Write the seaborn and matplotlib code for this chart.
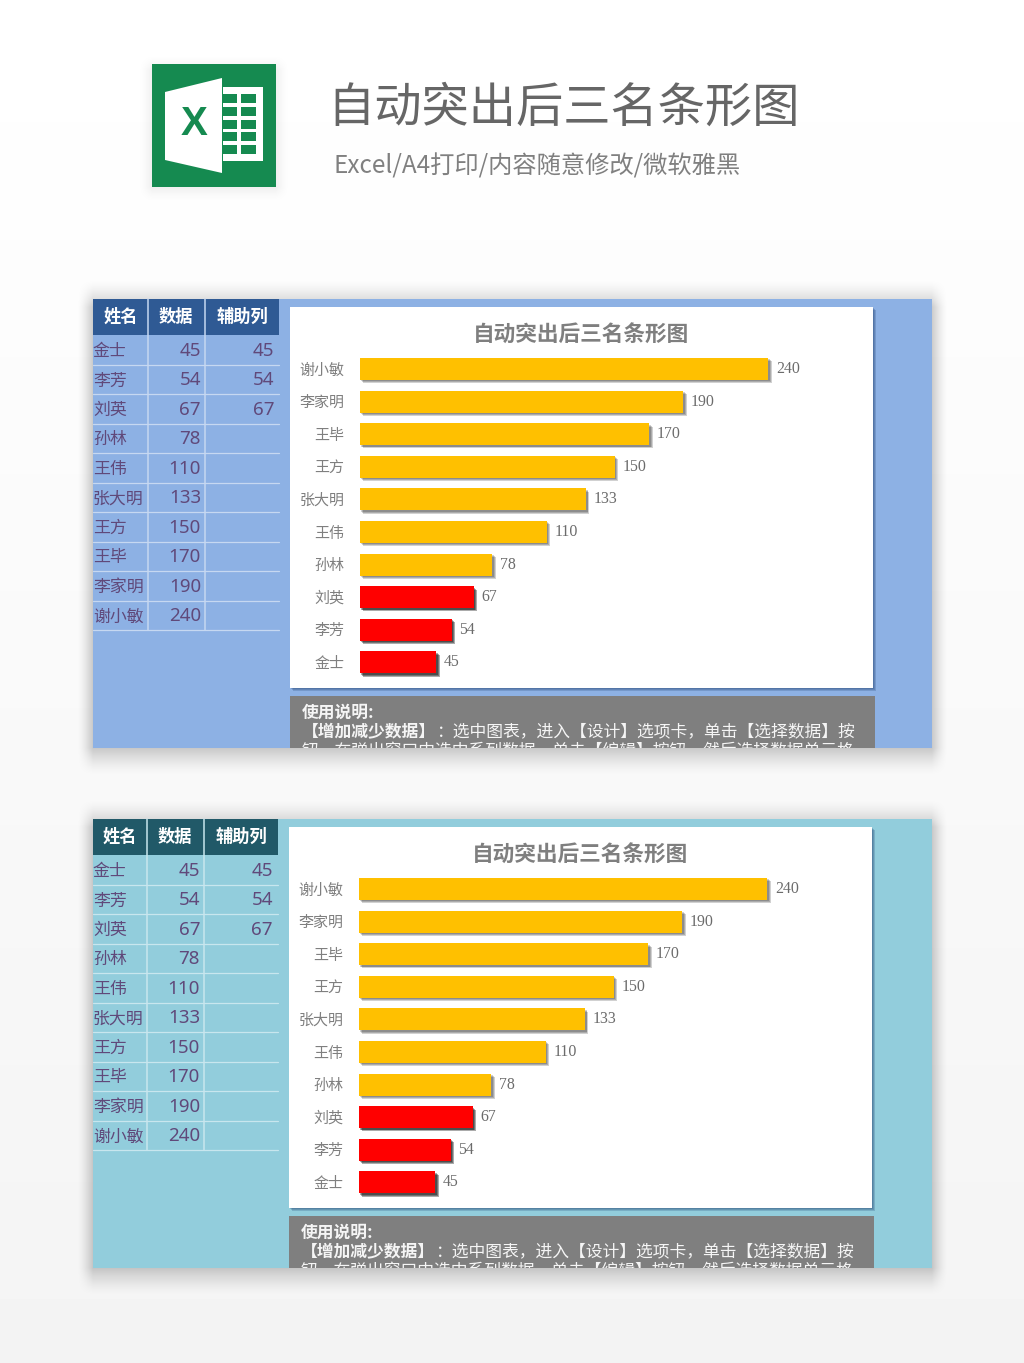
"""Excel template preview: two copies of a bar chart highlighting the bottom three."""

import numpy as np
import pandas as pd
import matplotlib
matplotlib.use("Agg")
import matplotlib.pyplot as plt
import matplotlib.patheffects as pe
from matplotlib.patches import Rectangle, Polygon
import seaborn as sns

# table data, in table order
NAMES = ["金士", "李芳", "刘英", "孙林", "王伟", "张大明", "王方", "王毕", "李家明", "谢小敏"]
VALUES = [45, 54, 67, 78, 110, 133, 150, 170, 190, 240]
HELPER = [45, 54, 67, None, None, None, None, None, None, None]
HEADERS = ["姓名", "数据", "辅助列"]

TITLE = "自动突出后三名条形图"
SUBTITLE = "Excel/A4打印/内容随意修改/微软雅黑"
NOTE_HEAD = "使用说明:"
NOTE_BOLD = "【增加减少数据】"
NOTE_LINE2 = "：选中图表，进入【设计】选项卡，单击【选择数据】按"
NOTE_LINE3 = "钮，在弹出窗口中选中系列数据，单击【编辑】按钮，然后选择数据单元格"

ORANGE = "#FFC000"
RED = "#FF0000"
GREEN = "#158A50"
GRAY = "#7F7F7F"
W, H = 1024, 1363

sns.set_theme(style="white")
plt.rcParams["font.family"] = ["Noto Sans CJK SC", "DejaVu Sans"]

df = pd.DataFrame({"name": NAMES, "value": VALUES, "helper": HELPER}, dtype=object)
df["value"] = pd.to_numeric(df["value"])
df["helper"] = pd.to_numeric(df["helper"])
df = df.iloc[::-1].reset_index(drop=True)

fig = plt.figure(figsize=(W / 100, H / 100), dpi=100)
bg = fig.add_axes([0, 0, 1, 1])
bg.imshow(np.linspace(1, 0.955, 256).reshape(-1, 1), cmap="gray", vmin=0, vmax=1,
          extent=(0, W, H, 0), aspect="auto", zorder=0)


def rect(x0, y0, x1, y1, color, **kwargs):
    patch = Rectangle((x0, y0), x1 - x0, y1 - y0, facecolor=color, edgecolor="none", **kwargs)
    bg.add_patch(patch)
    return patch


def soft_shadow(x0, y0, x1, y1, blur_x, blur_y, strength):
    """Fading shadow around a box, drawn as a small RGBA image."""
    m = 2
    ext = (x0 - blur_x - m, x1 + blur_x + m, y1 + blur_y + m, y0 - blur_y - m)
    xs = np.arange(ext[0], ext[1]) + 0.5
    ys = np.arange(ext[3], ext[2]) + 0.5
    fx = np.clip(np.minimum(xs - (x0 - blur_x), (x1 + blur_x) - xs) / blur_x, 0, 1)
    fy = np.clip(np.minimum(ys - (y0 - blur_y), (y1 + blur_y) - ys) / blur_y, 0, 1)
    img = np.zeros((len(ys), len(xs), 4))
    img[..., 3] = strength * np.outer(fy ** 1.5, fx ** 1.5)
    bg.imshow(img, extent=ext, aspect="auto", zorder=1, interpolation="bilinear")


def draw_logo():
    soft_shadow(152, 70, 276, 187, 14, 16, 0.06)
    rect(152, 64, 276, 187, GREEN, zorder=2)
    rect(223, 87, 263, 161, "white", zorder=3)
    for y0 in [94, 107, 120, 132, 145]:
        rect(223, y0, 237, y0 + 9, GREEN, zorder=4)
        rect(241, y0, 256, y0 + 9, GREEN, zorder=4)
    bg.add_patch(Polygon([(165, 92), (222, 78), (222, 173), (165, 160)],
                         facecolor="white", edgecolor="none", zorder=5))
    bg.text(194, 124, "X", family="Liberation Sans", weight="bold", fontsize=29,
            color=GREEN, ha="center", va="center", zorder=6)


def draw_table(top, right, panel_line, header_color):
    cols = [93, right - 132, right - 75, right]
    header_bottom = top + 36
    rect(cols[0], top, cols[3], header_bottom, header_color, zorder=3)
    for name, x0, x1 in zip(HEADERS, cols[:-1], cols[1:]):
        bg.text((x0 + x1) / 2 + 0.5, top + 17.5, name, color="white", fontsize=12.4, weight="bold",
                ha="center", va="center", zorder=5)
    row_h = 29.5
    for i, (name, value, helper) in enumerate(zip(NAMES, VALUES, HELPER)):
        yc = header_bottom + row_h * (i + 0.5) + 1.2
        bg.text(93, yc, name, color="#60497A", fontsize=12.2, ha="left", va="center", zorder=5)
        bg.text(cols[2] - 3, yc, str(value), color="#60497A", fontsize=13.5,
                family="Noto Sans", ha="right", va="center", zorder=5)
        if helper is not None:
            bg.text(cols[3] - 5, yc, str(helper), color="#60497A", fontsize=13.5,
                    family="Noto Sans", ha="right", va="center", zorder=5)
        bg.plot([cols[0], cols[3]], [header_bottom + row_h * (i + 1)] * 2, color=panel_line,
                lw=0.9, zorder=4)
    bottom = header_bottom + row_h * len(NAMES)
    for x in cols[1:-1]:
        bg.plot([x + 0.5, x + 0.5], [top, bottom], color=panel_line, lw=1.1, zorder=4)


def layered_shadow(steps, alpha, color="#000000"):
    effects = [pe.SimplePatchShadow(offset=(s, -s), shadow_rgbFace=color, alpha=alpha) for s in steps]
    return effects + [pe.Normal()]


def draw_chart(top, dx):
    box = rect(290 + dx, top + 8, 873 + dx, top + 389, "white", zorder=3)
    box.set_path_effects(layered_shadow([0.7, 1.4, 2.1], 0.22, "#20406f"))
    bg.text(581 + dx, top + 36, TITLE, color=GRAY, fontsize=15.6, weight="bold",
            ha="center", va="center", zorder=5)

    # axes placed in pixels: 1.704 px per unit, 32.6 px per category
    left, ax_w = 359.5 + dx, 500
    ax_top, ax_h = top + 53.7, 326
    ax = fig.add_axes([left / W, 1 - (ax_top + ax_h) / H, ax_w / W, ax_h / H], facecolor="none")
    sns.barplot(data=df, x="value", y="name", color=ORANGE, saturation=1, width=0.67, linewidth=0, ax=ax)
    sns.barplot(data=df, x="helper", y="name", color=RED, saturation=1, width=0.67, linewidth=0, ax=ax)
    for patch in ax.patches:
        patch.set_path_effects(layered_shadow([1.0, 1.7, 2.4], 0.18))
    ax.bar_label(ax.containers[0], padding=5.5, color="#6b6b6b", fontsize=11.4,
                 family="Liberation Serif")
    ax.set_xlim(0, ax_w / 1.704)
    ax.set_ylim(len(df) - 0.5, -0.5)
    ax.set_xlabel("")
    ax.set_ylabel("")
    ax.set_xticks([])
    ax.tick_params(axis="y", length=0, pad=11, labelsize=10.8, labelcolor=GRAY)
    sns.despine(ax=ax, left=True, bottom=True)

    note = rect(290 + dx, top + 397, 875 + dx, top + 449, GRAY, zorder=3)
    x0 = 302 + dx
    texts = [
        bg.text(x0, top + 414, NOTE_HEAD, fontsize=12.1, weight="bold", va="center"),
        bg.text(x0, top + 433, NOTE_BOLD, fontsize=12.1, weight="bold", va="center"),
        bg.text(x0 + 134, top + 433, NOTE_LINE2, fontsize=12.1, va="center"),
        bg.text(x0, top + 453, NOTE_LINE3, fontsize=12.1, va="center"),
    ]
    for t in texts:
        t.set_color("#F5F5F5")
        t.set_zorder(5)
        t.set_clip_on(True)
        t.set_clip_path(note)


def draw_panel(top, dx, panel_color, panel_line, header_color, table_right):
    soft_shadow(93, top + 8, 932, top + 449, 16, 28, 0.2)
    rect(93, top, 932, top + 449, panel_color, zorder=2)
    draw_table(top, table_right, panel_line, header_color)
    draw_chart(top, dx)


draw_logo()
bg.text(563.5, 108, TITLE, color="#666666", fontsize=34, ha="center", va="center", zorder=5)
bg.text(334, 166, SUBTITLE, color="#808080", fontsize=17.5, ha="left", va="center", zorder=5)

draw_panel(299, 0, "#8DB1E4", "#C6D8F1", "#2F5A94", 279)
draw_panel(819, -1, "#92CDDC", "#C8E6EE", "#215968", 278)

bg.set_xlim(0, W)
bg.set_ylim(H, 0)
bg.axis("off")

fig.savefig("out.png", dpi=100)
